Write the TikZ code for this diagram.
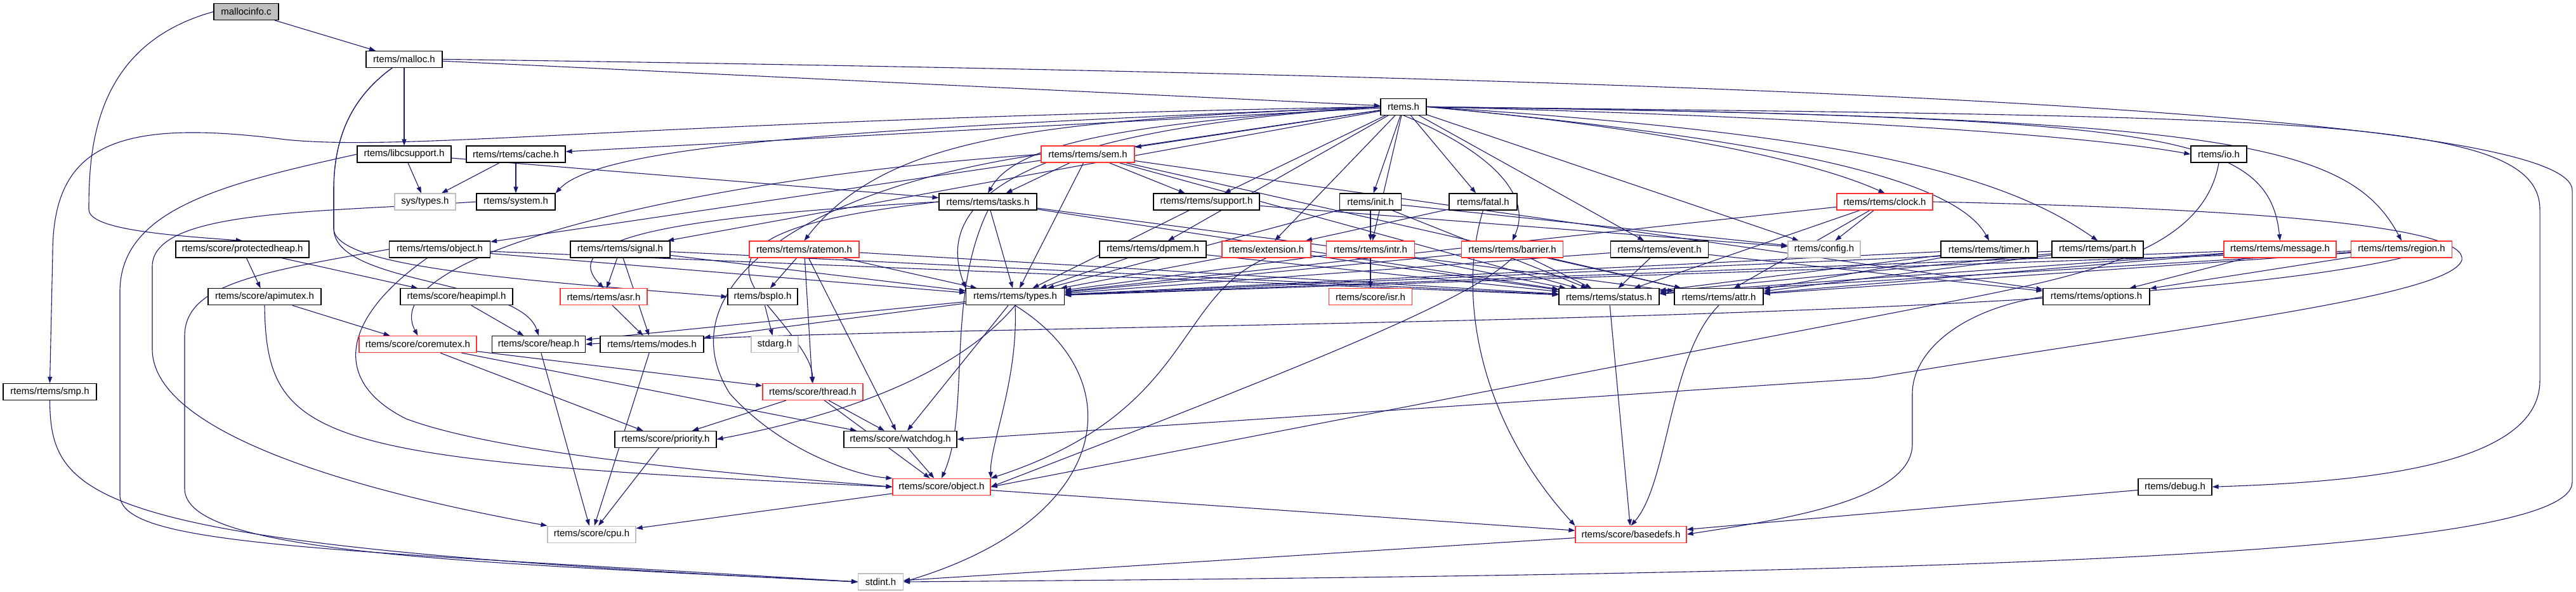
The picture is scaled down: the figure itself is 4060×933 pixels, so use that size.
\documentclass[tikz,border=0pt]{standalone}
\usepackage{fontspec}
\setmainfont{Liberation Sans}
\usepackage{tikz}
\usetikzlibrary{arrows.meta, backgrounds}
\definecolor{edgeblue}{HTML}{191970}
\definecolor{boxred}{HTML}{FF3030}
\definecolor{boxgray}{HTML}{BFBFBF}
\tikzset{
	hdr/.style={draw=black, line width=1.2pt, fill=white, minimum height=26pt, inner sep=0pt, font=\fontsize{15}{18}\selectfont},
	hdrred/.style={hdr, draw=boxred},
	hdrgray/.style={hdr, draw=boxgray},
	hdrroot/.style={hdr, fill=boxgray},
	dep/.style={draw=edgeblue, line width=1.1pt, -{Triangle[length=10pt,width=7pt]}}
}

\begin{document}
\begin{tikzpicture}[x=1pt, y=-1pt]
	\useasboundingbox (0,0) rectangle (4060,933);
	
	% 第0--2层
	\node[hdrroot, minimum width=102pt] (mallocinfo) at (388,18.5) {mallocinfo.c};
	\node[hdr, minimum width=120pt] (malloc) at (637,93.4) {rtems/malloc.h};
	\node[hdr, minimum width=72pt] (rtemsh) at (2212,168.3) {rtems.h};
	
	% 第3层
	\node[hdr, minimum width=148pt] (libc) at (637,243.1) {rtems/libcsupport.h};
	\node[hdr, minimum width=156pt] (cache) at (813,243.1) {rtems/rtems/cache.h};
	\node[hdrred, minimum width=147pt] (sem) at (1714.5,243.1) {rtems/rtems/sem.h};
	\node[hdr, minimum width=88pt] (io) at (3497,243.1) {rtems/io.h};
	
	% 第4层
	\node[hdrgray, minimum width=96pt] (systypes) at (670,318) {sys/types.h};
	\node[hdr, minimum width=124pt] (system) at (813,318) {rtems/system.h};
	\node[hdr, minimum width=154pt] (tasks) at (1557,318) {rtems/rtems/tasks.h};
	\node[hdr, minimum width=167pt] (support) at (1901.5,318) {rtems/rtems/support.h};
	\node[hdr, minimum width=97pt] (init) at (2160,318) {rtems/init.h};
	\node[hdr, minimum width=107pt] (fatal) at (2337.5,318) {rtems/fatal.h};
	\node[hdrred, minimum width=151pt] (clock) at (2970.5,318) {rtems/rtems/clock.h};
	
	% 第5层
	\node[hdr, minimum width=210pt] (protheap) at (382,392.9) {rtems/score/protectedheap.h};
	\node[hdr, minimum width=159pt] (robject) at (693,392.9) {rtems/rtems/object.h};
	\node[hdr, minimum width=157pt] (signal) at (977.5,392.9) {rtems/rtems/signal.h};
	\node[hdrred, minimum width=173pt] (ratemon) at (1267.5,392.9) {rtems/rtems/ratemon.h};
	\node[hdr, minimum width=168pt] (dpmem) at (1817,392.9) {rtems/rtems/dpmem.h};
	\node[hdrred, minimum width=140pt] (extension) at (1996,392.9) {rtems/extension.h};
	\node[hdrred, minimum width=139pt] (intr) at (2160,392.9) {rtems/rtems/intr.h};
	\node[hdrred, minimum width=160pt] (barrier) at (2383.5,392.9) {rtems/rtems/barrier.h};
	\node[hdr, minimum width=154pt] (event) at (2615.5,392.9) {rtems/rtems/event.h};
	\node[hdrgray, minimum width=114pt] (config) at (2875,392.9) {rtems/config.h};
	\node[hdr, minimum width=152pt] (timer) at (3135,392.9) {rtems/rtems/timer.h};
	\node[hdr, minimum width=144pt] (part) at (3306,392.9) {rtems/rtems/part.h};
	\node[hdrred, minimum width=177pt] (message) at (3593.5,392.9) {rtems/rtems/message.h};
	\node[hdrred, minimum width=159pt] (region) at (3785,392.9) {rtems/rtems/region.h};
	
	% 第6层
	\node[hdr, minimum width=178pt] (apimutex) at (417,467.8) {rtems/score/apimutex.h};
	\node[hdr, minimum width=177pt] (heapimpl) at (719.5,467.8) {rtems/score/heapimpl.h};
	\node[hdrred, minimum width=137pt] (asr) at (951.5,467.8) {rtems/rtems/asr.h};
	\node[hdr, minimum width=110pt] (bspio) at (1202,467.8) {rtems/bspIo.h};
	\node[hdr, minimum width=155pt] (types) at (1600,467.8) {rtems/rtems/types.h};
	\node[hdrred, minimum width=131pt] (isr) at (2160,467.8) {rtems/score/isr.h};
	\node[hdr, minimum width=158pt] (status) at (2536,467.8) {rtems/rtems/status.h};
	\node[hdr, minimum width=140pt] (attr) at (2709,467.8) {rtems/rtems/attr.h};
	\node[hdr, minimum width=168pt] (options) at (3304,467.8) {rtems/rtems/options.h};
	
	% 第7--12层
	\node[hdrred, minimum width=185pt] (coremutex) at (658.5,542.6) {rtems/score/coremutex.h};
	\node[hdr, minimum width=147pt] (heap) at (849,542.6) {rtems/score/heap.h};
	\node[hdr, minimum width=163pt] (modes) at (1027.5,542.6) {rtems/rtems/modes.h};
	\node[hdrgray, minimum width=74pt] (stdarg) at (1221,542.6) {stdarg.h};
	\node[hdr, minimum width=147pt] (smp) at (78.5,617.5) {rtems/rtems/smp.h};
	\node[hdrred, minimum width=158pt] (thread) at (1281,617.5) {rtems/score/thread.h};
	\node[hdr, minimum width=160pt] (priority) at (1049,692.4) {rtems/score/priority.h};
	\node[hdr, minimum width=178pt] (watchdog) at (1419,692.4) {rtems/score/watchdog.h};
	\node[hdrred, minimum width=154pt] (sobject) at (1484,767.3) {rtems/score/object.h};
	\node[hdr, minimum width=116pt] (debug) at (3428,767.3) {rtems/debug.h};
	\node[hdrgray, minimum width=139pt] (cpu) at (932.5,842.1) {rtems/score/cpu.h};
	\node[hdrred, minimum width=175pt] (basedefs) at (2570.5,842.1) {rtems/score/basedefs.h};
	\node[hdrgray, minimum width=71pt] (stdint) at (1388,917) {stdint.h};
	
	\begin{pgfonlayer}{background}
	% 直线依赖
	\foreach \a/\b in {mallocinfo/malloc, malloc/libc, malloc/rtemsh,
		rtemsh/cache, rtemsh/sem, rtemsh/support, rtemsh/init, rtemsh/fatal, rtemsh/robject,
		rtemsh/signal, rtemsh/dpmem, rtemsh/extension, rtemsh/intr, rtemsh/event, rtemsh/config,
		libc/systypes, libc/tasks, cache/systypes, cache/system,
		sem/tasks, sem/support, sem/types, sem/status, sem/attr, sem/options,
		tasks/types, tasks/status, tasks/attr, support/types, support/config,
		init/intr, init/types, init/config, init/status, fatal/extension,
		clock/config, clock/status, clock/types, clock/attr,
		protheap/apimutex, protheap/heapimpl, robject/types, robject/status,
		signal/asr, signal/modes, signal/types, signal/status,
		ratemon/bspio, ratemon/thread, ratemon/watchdog, ratemon/types, ratemon/status,
		dpmem/types, dpmem/status, extension/types, extension/status,
		intr/isr, intr/types, intr/status, barrier/types, barrier/status, barrier/attr,
		event/types, event/status, event/options, timer/types, timer/status, timer/attr,
		part/types, part/status, part/attr,
		message/types, message/status, message/attr, message/options,
		region/types, region/status, region/attr, region/options,
		apimutex/coremutex, heapimpl/heap, asr/modes, bspio/stdarg,
		types/heap, types/modes, types/watchdog, status/basedefs,
		coremutex/thread, coremutex/priority, coremutex/watchdog,
		heap/cpu, modes/cpu, thread/priority, thread/watchdog, thread/sobject,
		watchdog/sobject, priority/cpu, sobject/cpu, sobject/basedefs,
		basedefs/stdint, debug/basedefs}
	\draw[dep] (\a) -- (\b);
	
	% 弯曲依赖
	\draw[dep] (mallocinfo.west) .. controls (150,70) and (140,230) .. (140,330) .. controls (140,360) and (250,370) .. (protheap.north);
	\draw[dep] (malloc) .. controls (545,160) and (526,230) .. (526,300) -- (526,360) .. controls (526,450) and (820,440) .. (heap.north);
	\draw[dep] (malloc) .. controls (545,160) and (526,230) .. (526,300) -- (526,360) .. controls (526,420) and (800,440) .. (bspio.west);
	\draw[dep] (malloc.east) .. controls (2600,120) and (4054,170) .. (4054,300) -- (4054,760) .. controls (4054,880) and (3000,905) .. (stdint.east);
	\draw[dep] (rtemsh.west) .. controls (1400,200) and (950,225) .. (system.north east);
	\draw[dep] (rtemsh.west) .. controls (1750,195) and (1600,230) .. (tasks.north);
	\draw[dep] (rtemsh.west) .. controls (1680,200) and (1460,290) .. (types.north west);
	\draw[dep] (rtemsh.west) .. controls (1650,190) and (1400,210) .. (ratemon.north);
	\draw[dep] (rtemsh.west) .. controls (1000,190) and (650,240) .. (450,220) .. controls (180,185) and (83,230) .. (83,400) -- (smp.north);
	\draw[dep] (rtemsh.south) .. controls (2330,230) and (2420,300) .. (barrier.north);
	\draw[dep] (rtemsh.east) .. controls (2600,200) and (2850,250) .. (clock.north);
	\draw[dep] (rtemsh.east) .. controls (2800,220) and (3080,280) .. (timer.north);
	\draw[dep] (rtemsh.east) .. controls (2900,210) and (3150,270) .. (part.north);
	\draw[dep] (rtemsh.east) .. controls (2900,185) and (3300,215) .. (io.west);
	\draw[dep] (rtemsh.east) .. controls (3400,185) and (3575,205) .. (message.north);
	\draw[dep] (rtemsh.east) .. controls (3500,185) and (3700,220) .. (region.north);
	\draw[dep] (rtemsh.east) .. controls (3600,185) and (4003,180) .. (4003,330) -- (4003,600) .. controls (4003,740) and (3700,760) .. (debug.east);
	\draw[dep] (libc.west) .. controls (350,290) and (189,330) .. (189,460) -- (189,780) .. controls (189,860) and (500,865) .. (stdint.west);
	\draw[dep] (system.west) .. controls (500,335) and (240,330) .. (240,420) -- (240,550) .. controls (240,700) and (650,790) .. (cpu.north west);
	\draw[dep] (robject.west) .. controls (400,430) and (291,450) .. (291,530) -- (291,770) .. controls (291,870) and (700,885) .. (stdint.west);
	\draw[dep] (robject) .. controls (540,500) and (520,600) .. (640,660) .. controls (800,720) and (1200,750) .. (sobject.west);
	\draw[dep] (smp.south) .. controls (80,790) and (140,860) .. (stdint.west);
	\draw[dep] (apimutex.south) .. controls (420,700) and (500,725) .. (sobject.west);
	\draw[dep] (sem.west) .. controls (1100,280) and (590,400) .. (coremutex.north);
	\draw[dep] (sem.west) .. controls (1250,300) and (1050,460) .. (1150,620) .. controls (1230,710) and (1350,750) .. (sobject.north west);
	\draw[dep] (tasks.west) .. controls (1250,345) and (1130,380) .. (1200,470) .. controls (1260,540) and (1280,570) .. (thread.north);
	\draw[dep] (tasks.west) .. controls (1100,340) and (870,370) .. (asr.north);
	\draw[dep] (tasks.south) .. controls (1490,470) and (1530,650) .. (sobject.north);
	\draw[dep] (types.south) .. controls (1605,600) and (1560,700) .. (sobject.north east);
	\draw[dep] (types.south) .. controls (1790,600) and (1750,820) .. (stdint.east);
	\draw[dep] (types.south) .. controls (1500,600) and (1300,660) .. (priority.east);
	\draw[dep] (fatal.south) .. controls (2300,450) and (2320,650) .. (basedefs.north west);
	\draw[dep] (attr.south) .. controls (2630,560) and (2630,760) .. (basedefs.north);
	\draw[dep] (options.west) .. controls (3080,490) and (3014,560) .. (3014,620) -- (3014,700) .. controls (3014,790) and (2800,820) .. (basedefs.east);
	\draw[dep] (clock.east) .. controls (3600,330) and (3890,360) .. (3880,410) .. controls (3860,470) and (3400,520) .. (2950,596) -- (watchdog.east);
	\draw[dep] (region.south) .. controls (3300,520) and (1500,505) .. (heap.east);
	\draw[dep] (io.south) .. controls (3470,410) and (3250,440) .. (3000,490) -- (sobject.east);
	\draw[dep] (barrier.south) .. controls (2320,470) and (2100,560) .. (sobject.east);
	\draw[dep] (extension.south) .. controls (1850,470) and (1880,650) .. (sobject.north east);
	\end{pgfonlayer}
\end{tikzpicture}
\end{document}
